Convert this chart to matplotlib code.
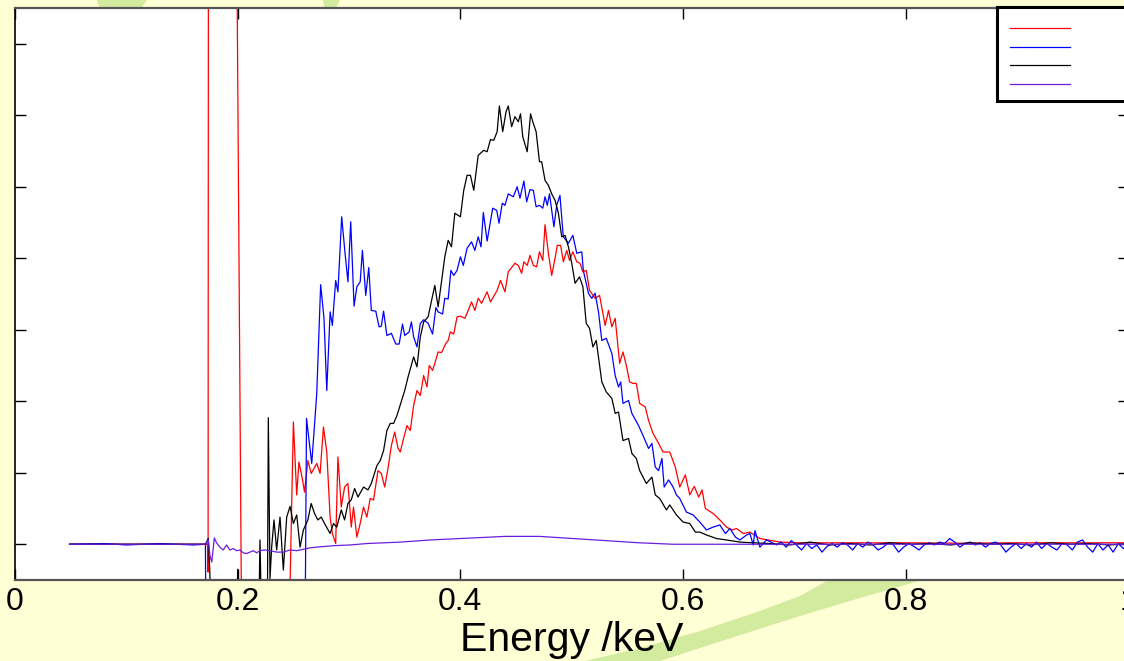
import numpy as np
import matplotlib
matplotlib.use("Agg")
import matplotlib.pyplot as plt
from matplotlib.patches import Polygon, Rectangle
from matplotlib.lines import Line2D

plt.rcParams['font.family'] = ['Liberation Sans', 'DejaVu Sans']

# Spectra (energy in keV, intensity in tick units)
red_e = [0.049, 0.171, 0.1728, 0.1734, 0.1738, 0.185, 0.199, 0.204, 0.225, 0.2458,
         0.250, 0.253, 0.255, 0.258, 0.260, 0.263, 0.266, 0.271, 0.274, 0.277,
         0.280, 0.283, 0.285, 0.288, 0.290, 0.293, 0.296, 0.299, 0.302, 0.304,
         0.307, 0.310, 0.313, 0.316, 0.319, 0.322, 0.326, 0.329, 0.332, 0.335,
         0.338, 0.341, 0.344, 0.346, 0.349, 0.352, 0.355, 0.358, 0.361, 0.364,
         0.367, 0.370, 0.372, 0.375, 0.377, 0.380, 0.383, 0.387, 0.389, 0.391,
         0.394, 0.397, 0.400, 0.404, 0.407, 0.410, 0.413, 0.416, 0.419, 0.424,
         0.427, 0.433, 0.436, 0.440, 0.443, 0.449, 0.452, 0.455, 0.457, 0.460,
         0.4625, 0.4655, 0.4685, 0.471, 0.474, 0.476, 0.479, 0.482, 0.485, 0.487,
         0.490, 0.4925, 0.4955, 0.498, 0.501, 0.5045, 0.5074, 0.510, 0.513, 0.516,
         0.521, 0.525, 0.530, 0.533, 0.536, 0.539, 0.543, 0.546, 0.549, 0.552,
         0.555, 0.558, 0.561, 0.566, 0.569, 0.573, 0.578, 0.582, 0.588, 0.593,
         0.597, 0.602, 0.606, 0.610, 0.614, 0.617, 0.620, 0.627, 0.633, 0.639,
         0.644, 0.648, 0.654, 0.660, 0.669, 0.687, 0.705, 0.75, 0.8, 0.85,
         0.9, 0.95, 1.0]
red_v = [0, 0, 0, -0.39, 12, 12, 8.8, -2.3, -2.0, -1.5,
         1.71, 0.69, 1.15, 0.92, 0.73, 1.17, 0.99, 1.13, 0.99, 1.64,
         1.29, 0.38, 0.15, 0.01, 1.22, 0.52, 0.80, 0.85, 0.24, 0.52,
         0.10, 0.29, 0.52, 0.38, 0.64, 0.62, 1.03, 0.99, 0.80, 1.06,
         1.38, 1.57, 1.34, 1.29, 1.48, 1.66, 1.59, 1.94, 2.15, 2.08,
         2.36, 2.20, 2.50, 2.43, 2.53, 2.69, 2.68, 2.81, 2.85, 2.97,
         2.94, 3.18, 3.19, 3.16, 3.27, 3.39, 3.27, 3.44, 3.37, 3.53,
         3.39, 3.55, 3.69, 3.53, 3.81, 3.93, 3.90, 3.79, 3.95, 3.90,
         4.04, 3.90, 3.88, 4.09, 3.97, 4.47, 4.07, 3.76, 4.00, 4.18,
         4.18, 3.95, 4.11, 3.97, 4.09, 3.95, 3.93, 3.81, 3.83, 3.55,
         3.44, 3.48, 3.06, 3.27, 3.04, 3.16, 2.53, 2.69, 2.50, 2.27,
         2.25, 2.25, 1.97, 1.92, 1.73, 1.55, 1.41, 1.29, 1.29, 1.08,
         0.80, 0.97, 0.69, 0.81, 0.66, 0.76, 0.50, 0.43, 0.34, 0.24,
         0.20, 0.22, 0.15, 0.17, 0.08, 0.03, 0.02, 0.02, 0.02, 0.015,
         0.02, 0.02, 0.02]

blue_e = [0.049, 0.08, 0.10, 0.13, 0.16, 0.171, 0.1716, 0.21, 0.2604, 0.2618,
          0.2665, 0.271, 0.2745, 0.2775, 0.280, 0.283, 0.285, 0.288, 0.290, 0.2934,
          0.2964, 0.299, 0.3015, 0.3045, 0.307, 0.310, 0.312, 0.315, 0.3177, 0.320,
          0.324, 0.327, 0.329, 0.331, 0.334, 0.338, 0.342, 0.345, 0.348, 0.350,
          0.354, 0.356, 0.358, 0.361, 0.364, 0.367, 0.371, 0.375, 0.378, 0.380,
          0.384, 0.386, 0.389, 0.3915, 0.394, 0.397, 0.400, 0.4026, 0.406, 0.410,
          0.413, 0.416, 0.4185, 0.4206, 0.424, 0.429, 0.4326, 0.4347, 0.4376, 0.440,
          0.443, 0.4475, 0.451, 0.4535, 0.457, 0.4595, 0.4625, 0.4655, 0.468, 0.471,
          0.474, 0.476, 0.478, 0.480, 0.484, 0.4865, 0.4894, 0.4924, 0.497, 0.501,
          0.5045, 0.509, 0.5104, 0.515, 0.518, 0.521, 0.524, 0.527, 0.531, 0.536,
          0.539, 0.542, 0.544, 0.546, 0.551, 0.554, 0.560, 0.564, 0.569, 0.572,
          0.575, 0.578, 0.581, 0.583, 0.587, 0.591, 0.594, 0.597, 0.603, 0.609,
          0.615, 0.621, 0.627, 0.633, 0.638, 0.642, 0.647, 0.651, 0.657, 0.660,
          0.663, 0.6645, 0.669, 0.675, 0.684]
blue_v = [0, 0.01, -0.01, 0.01, -0.01, 0, -1.5, -1.5, -1.5, 1.76,
          1.13, 2.11, 3.63, 3.16, 2.15, 3.25, 3.06, 3.69, 3.53, 4.58,
          4.07, 3.67, 4.51, 3.33, 3.60, 3.67, 4.11, 3.48, 3.87, 3.27,
          3.26, 3.04, 3.05, 3.26, 2.92, 2.95, 2.80, 2.80, 3.08, 2.92,
          2.97, 3.11, 2.90, 2.76, 3.09, 3.14, 3.09, 2.94, 3.31, 3.25,
          3.22, 3.44, 3.43, 3.83, 3.76, 3.83, 4.02, 3.90, 4.14, 4.23,
          4.11, 4.30, 4.16, 4.64, 4.24, 4.70, 4.67, 4.49, 4.77, 4.74,
          4.90, 4.86, 5.00, 4.84, 5.08, 4.79, 4.96, 4.95, 4.72, 4.74,
          4.70, 4.86, 4.74, 4.90, 4.44, 4.74, 4.88, 4.30, 4.21, 4.32,
          4.07, 4.09, 3.83, 3.51, 3.44, 3.51, 3.25, 2.85, 2.88, 2.67,
          2.36, 2.20, 2.27, 1.97, 2.01, 1.83, 1.66, 1.52, 1.34, 1.41,
          1.08, 1.03, 1.20, 0.80, 0.90, 0.80, 0.69, 0.64, 0.45, 0.41,
          0.31, 0.20, 0.24, 0.27, 0.15, 0.22, 0.10, 0.06, 0.13, 0.15,
          -0.01, 0.19, -0.04, 0.06, -0.01]
# noisy flat tail of the blue spectrum, 0.688 .. 1.0 keV
blue_tail_v = [0.03, -0.04, 0.05, -0.01, -0.08, 0.01, -0.06, -0.01, -0.11, -0.03,
               0.01, -0.04, 0.02, -0.01, -0.08, 0.01, -0.04, 0.03, -0.01, -0.08,
               -0.04, 0.02, -0.01, -0.11, -0.04, 0.01, -0.03, -0.08, -0.01, 0.02,
               -0.01, 0.03, 0.01, 0.08, 0.03, -0.04, 0.01, 0.03, -0.01, 0.02,
               -0.04, 0.01, 0.03, -0.01, -0.11, -0.04, 0.01, -0.06, 0.01, -0.04,
               0.03, -0.06, 0.01, -0.04, -0.08, 0.01, -0.01, -0.08, 0.03, 0.06,
               -0.04, -0.11, 0.01, -0.08, -0.01, -0.11, 0.01, -0.06, -0.01]

black_e = [0.049, 0.171, 0.1736, 0.175, 0.176, 0.1985, 0.200, 0.2015, 0.2185, 0.220,
           0.222, 0.2265, 0.2275, 0.229, 0.2305, 0.2326, 0.235, 0.238, 0.241, 0.244,
           0.247, 0.250, 0.253, 0.256, 0.259, 0.263, 0.266, 0.269, 0.272, 0.275,
           0.278, 0.283, 0.286, 0.289, 0.293, 0.296, 0.299, 0.302, 0.305, 0.308,
           0.313, 0.317, 0.320, 0.325, 0.328, 0.331, 0.334, 0.337, 0.340, 0.343,
           0.350, 0.353, 0.358, 0.361, 0.364, 0.367, 0.371, 0.377, 0.380, 0.386,
           0.389, 0.392, 0.395, 0.400, 0.403, 0.406, 0.409, 0.412, 0.416, 0.421,
           0.424, 0.427, 0.430, 0.433, 0.435, 0.438, 0.441, 0.443, 0.446, 0.449,
           0.452, 0.454, 0.456, 0.460, 0.463, 0.465, 0.468, 0.471, 0.473, 0.476,
           0.479, 0.482, 0.485, 0.488, 0.491, 0.494, 0.497, 0.500, 0.503, 0.507,
           0.510, 0.513, 0.516, 0.519, 0.522, 0.527, 0.531, 0.536, 0.539, 0.542,
           0.546, 0.551, 0.554, 0.558, 0.561, 0.564, 0.567, 0.572, 0.575, 0.579,
           0.585, 0.588, 0.594, 0.600, 0.606, 0.611, 0.615, 0.621, 0.630, 0.639,
           0.651, 0.663, 0.678, 0.696, 0.714, 0.732, 0.750, 0.768, 0.786, 0.804,
           0.822, 0.840, 0.858, 0.876, 0.894, 0.912, 0.930, 0.948, 0.965, 0.983,
           1.001]
black_v = [0, 0, 0.08, -0.39, -1.5, -1.5, -0.35, -1.5, -1.5, 0.06,
           -1.5, -1.5, 1.77, -0.48, -0.04, 0.34, -0.08, 0.38, -0.36, 0.38,
           0.53, 0.29, 0.41, -0.04, 0.20, 0.34, 0.57, 0.43, 0.34, 0.38,
           0.29, 0.15, 0.29, 0.24, 0.48, 0.34, 0.57, 0.62, 0.78, 0.66,
           0.80, 0.76, 0.85, 1.10, 1.17, 1.31, 1.59, 1.69, 1.69, 1.80,
           2.15, 2.34, 2.62, 2.48, 2.90, 3.11, 3.18, 3.62, 3.32, 4.02,
           4.25, 4.16, 4.63, 4.58, 4.95, 5.16, 5.16, 4.95, 5.44, 5.51,
           5.49, 5.66, 5.65, 5.77, 6.13, 5.77, 6.05, 6.13, 5.84, 5.98,
           5.91, 6.02, 5.70, 5.49, 6.02, 5.91, 5.77, 5.35, 5.35, 5.09,
           5.02, 4.90, 4.81, 4.63, 4.30, 4.32, 4.16, 3.93, 3.65, 3.74,
           3.60, 3.09, 3.02, 2.76, 2.85, 2.27, 2.13, 2.04, 1.83, 1.85,
           1.45, 1.48, 1.27, 1.20, 1.03, 0.94, 0.85, 0.94, 0.69, 0.64,
           0.48, 0.55, 0.41, 0.31, 0.29, 0.17, 0.17, 0.13, 0.08, 0.06,
           0.03, 0.02, 0.01, -0.01, 0.03, -0.01, 0.01, -0.01, 0.02, 0.0,
           0.01, -0.01, 0.02, 0.0, 0.01, -0.01, 0.02, 0.0, 0.01, -0.01,
           0.01]

purple_e = [0.049, 0.171, 0.1736, 0.175, 0.1767, 0.179, 0.181, 0.184, 0.187, 0.190,
            0.193, 0.196, 0.199, 0.202, 0.205, 0.208, 0.211, 0.214, 0.217, 0.220,
            0.2245, 0.229, 0.235, 0.241, 0.247, 0.253, 0.259, 0.265, 0.271, 0.286,
            0.301, 0.316, 0.331, 0.346, 0.373, 0.400, 0.427, 0.440, 0.454, 0.471,
            0.501, 0.531, 0.561, 0.591, 0.615, 1.0]
purple_v = [0, 0, 0.06, -0.15, -0.25, 0.09, 0.02, -0.04, -0.08, -0.01,
            -0.08, -0.06, -0.09, -0.08, -0.12, -0.13, -0.11, -0.09, -0.12, -0.09,
            -0.08, -0.09, -0.11, -0.11, -0.08, -0.09, -0.07, -0.05, -0.04, -0.02,
            -0.01, 0.01, 0.02, 0.03, 0.06, 0.08, 0.10, 0.11, 0.11, 0.11,
            0.08, 0.05, 0.02, 0.0, 0.0, 0.0]

x_ticks = [0, 0.2, 0.4, 0.6, 0.8, 1.0]
x_tick_labels = ['0', '0.2', '0.4', '0.6', '0.8', '1']

RED, BLUE, BLACK, PURPLE = '#ff0000', '#0000ff', '#000000', '#6a1ee0'
BG, SWOOSH = '#ffffd6', '#d3eb9f'

W, H = 1124, 661
fig = plt.figure(figsize=(W / 100, H / 100), dpi=100, facecolor=BG)


def fp(x, y):
    # figure pixel (origin top-left) -> figure fraction
    return (x / W, 1 - y / H)


# slide background decoration
for pts in ([(97, 0), (147, 0), (140, 10), (100, 10)],
            [(323, 0), (340, 0), (335, 10), (325, 10)],
            [(585, 661), (640, 648), (700, 631), (757, 612), (800, 596), (830, 579),
             (926, 579), (860, 598), (800, 616), (750, 632), (700, 648), (660, 661)]):
    fig.add_artist(Polygon([fp(*p) for p in pts], closed=True,
                           facecolor=SWOOSH, edgecolor='none', zorder=0))

ax = fig.add_axes([15 / W, 1 - 580 / H, 1113.5 / W, 572 / H])
ax.set_facecolor('white')

blue_all_e = blue_e + list(np.linspace(0.688, 1.0, len(blue_tail_v)))
blue_all_v = blue_v + blue_tail_v

ax.plot(red_e, red_v, color=RED, lw=0.9)
ax.plot(blue_all_e, blue_all_v, color=BLUE, lw=0.9)
ax.plot(black_e, black_v, color=BLACK, lw=0.9)
ax.plot(purple_e, purple_v, color=PURPLE, lw=0.9)

ax.set_xlim(0, 1.0)
ax.set_ylim(-0.5, 7.5)
ax.set_xticks(x_ticks)
ax.set_xticklabels(x_tick_labels)
ax.set_yticks(range(0, 8))
ax.tick_params(direction='in', length=8, width=1, top=True, right=True,
               labelleft=False, labelsize=23, pad=5)
for side in ('left', 'right'):
    ax.spines[side].set_color('black')
    ax.spines[side].set_linewidth(1.2)
for side in ('top', 'bottom'):
    ax.spines[side].set_color('#555555')
    ax.spines[side].set_linewidth(1.6)

ax.set_xlabel('Energy /keV', fontsize=29.5, labelpad=3)

# legend box (labels fall outside the visible slide area)
fig.add_artist(Rectangle(fp(997, 101), 150 / W, 94 / H, facecolor='white',
                         edgecolor='black', lw=2.2, zorder=5))
for yy, col in zip([28.3, 46.7, 65.3, 84.0], [RED, BLUE, BLACK, PURPLE]):
    x0, y0 = fp(1010, yy)
    x1, _ = fp(1070, yy)
    fig.add_artist(Line2D([x0, x1], [y0, y0], color=col, lw=0.9, zorder=6))

fig.savefig('out.png', dpi=100, facecolor=BG)
